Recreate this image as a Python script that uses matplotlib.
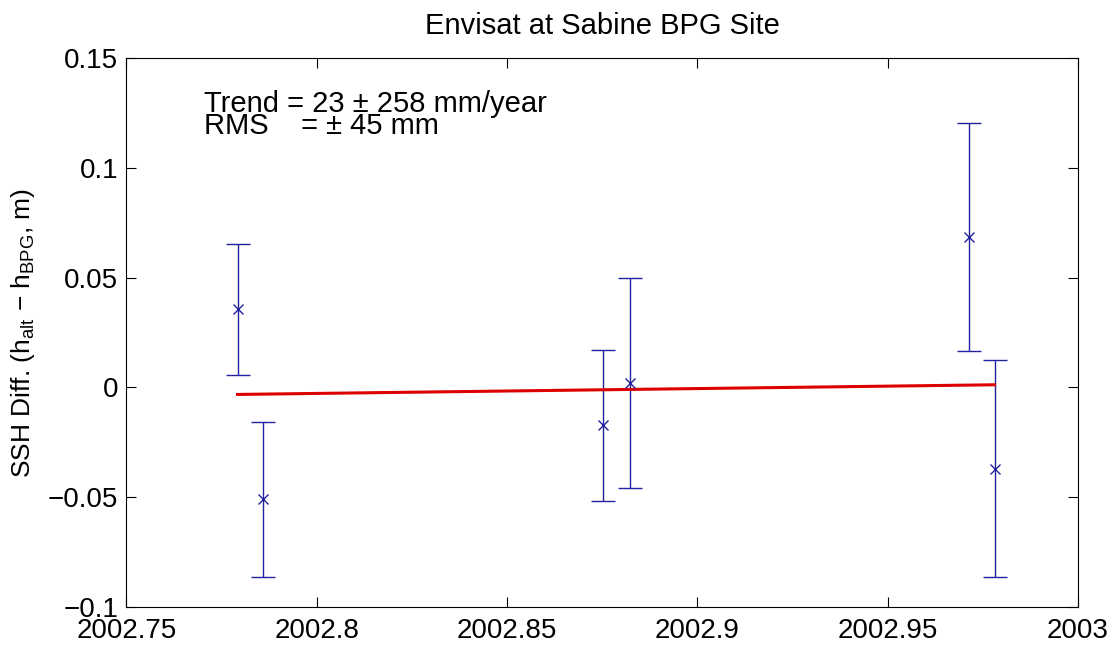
import matplotlib
matplotlib.use("Agg")
import matplotlib.pyplot as plt
import numpy as np

# ---- data ----
t_year = [2002.7792, 2002.7859, 2002.8751, 2002.8822, 2002.9713, 2002.9781]
ssh_diff = [0.0356, -0.0510, -0.0173, 0.0020, 0.0685, -0.0370]
ssh_err = [0.0298, 0.0352, 0.0342, 0.0480, 0.0520, 0.0495]
trend_ends = [-0.0032, 0.0012]
x_ticks = [2002.75, 2002.8, 2002.85, 2002.9, 2002.95, 2003.0]
x_tick_labels = ["2002.75", "2002.8", "2002.85", "2002.9", "2002.95", "2003"]
y_ticks = [-0.1, -0.05, 0.0, 0.05, 0.1, 0.15]
y_tick_labels = ["\u22120.1", "\u22120.05", "0", "0.05", "0.1", "0.15"]
title = "Envisat at Sabine BPG Site"
trend_text = "Trend = 23 \u00b1 258 mm/year"
rms_text = "RMS    = \u00b1 45 mm"

plt.rcParams['font.family'] = ['Liberation Sans', 'DejaVu Sans']
plt.rcParams['mathtext.fontset'] = 'custom'
plt.rcParams['mathtext.rm'] = 'Liberation Sans'
plt.rcParams['mathtext.it'] = 'Liberation Sans'

fig = plt.figure(figsize=(11.19, 6.49), dpi=100)
ax = fig.add_axes([0.1130, 0.0647, 0.8503, 0.8459])

ax.errorbar(t_year, ssh_diff, yerr=ssh_err, fmt='x', color='#22229f',
            ecolor='#22229f', elinewidth=1.0, capsize=8.5, capthick=1.0,
            markersize=7, markeredgewidth=1.0)
ax.plot([t_year[0], t_year[-1]], trend_ends, color='#dd0000', linewidth=2.2)

ax.set_xlim(2002.75, 2003.0)
ax.set_ylim(-0.1, 0.15)
ax.set_xticks(x_ticks)
ax.set_xticklabels(x_tick_labels)
ax.set_yticks(y_ticks)
ax.set_yticklabels(y_tick_labels)
ax.tick_params(direction='in', length=7, width=0.8, top=True, right=True,
               labelsize=20, colors='black')
ax.tick_params(axis='x', pad=8)
ax.tick_params(axis='y', pad=6)
for s in ax.spines.values():
    s.set_linewidth(0.8)

ax.set_title(title, fontsize=21, pad=17)
ax.set_ylabel(r"SSH Diff. (h$_{\mathrm{alt}}$ $-$ h$_{\mathrm{BPG}}$, m)", fontsize=19, labelpad=8)

ax.text(2002.7704, 0.1254, trend_text, fontsize=21, va='baseline', ha='left')
ax.text(2002.7704, 0.1154, rms_text, fontsize=21, va='baseline', ha='left')

fig.savefig("out.png", dpi=100)
